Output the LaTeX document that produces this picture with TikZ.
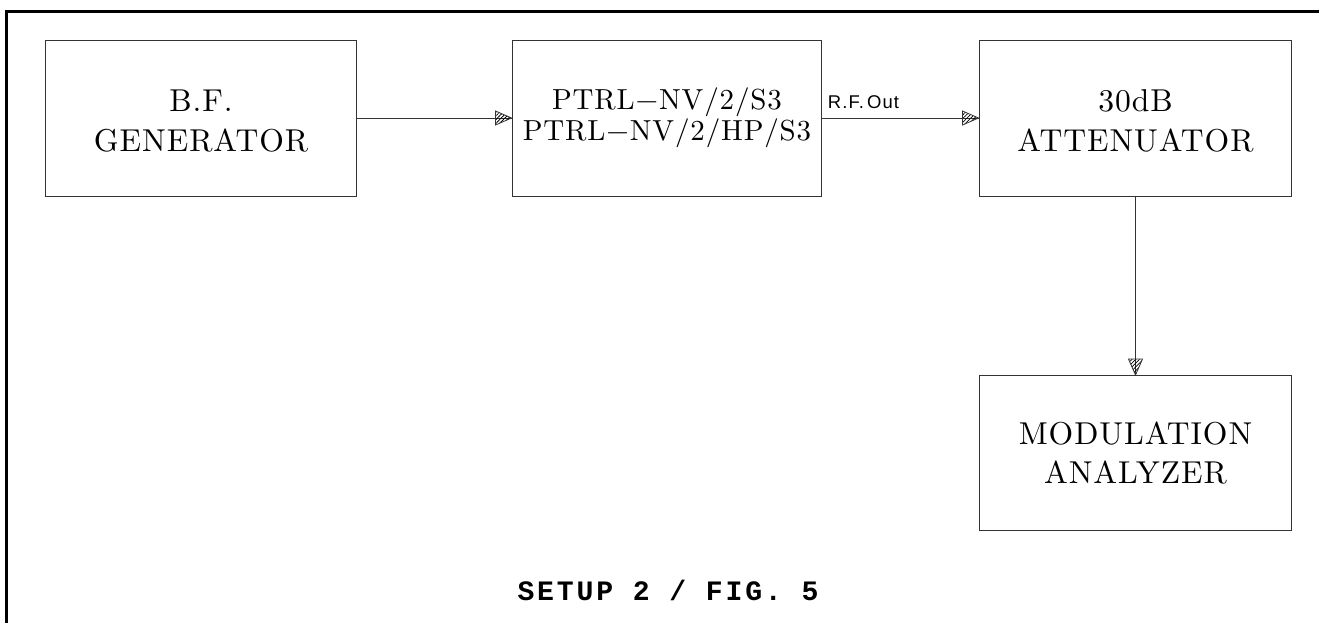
\documentclass[tikz,border=0pt]{standalone}
\usepackage{fontspec}
\newfontfamily\rffont[LetterSpace=6]{Liberation Sans}
\newfontfamily\capfont[LetterSpace=10]{Liberation Mono}
\newfontfamily\boxfont[Extension=.otf, LetterSpace=3]{lmroman10-regular}
\usetikzlibrary{decorations.markings,patterns.meta}
\tikzset{
  blockbox/.style={draw=black!80, line width=0.55pt, minimum width=#1, minimum height=3.12cm,
    inner sep=0pt, align=center, font=\boxfont\fontsize{18}{22.7}\selectfont},
  boxtext/.style={font=\boxfont\fontsize{18}{22.7}\selectfont, align=center, inner sep=0pt, yshift=-0.06cm},
  hatcharrow/.style={draw=black!80, line width=0.55pt, postaction={decorate},
    decoration={markings, mark=at position 1 with {
      \draw[line width=0.45pt, pattern={Lines[angle=45,distance=1.5pt,line width=0.45pt]}]
        (0,0) -- (-0.32cm,0.14cm) -- (-0.32cm,-0.14cm) -- cycle;}}},
  framestroke/.style={line width=1.8pt, black}
}
\begin{document}
\begin{tikzpicture}[x=0.02cm,y=-0.02cm]
\useasboundingbox (0,0) rectangle (1319,623);
% outer frame (top and left only)
\coordinate (ftr) at (1319,11.5);
\coordinate (ftl) at (6.5,11.5);
\coordinate (fbl) at (6.5,623);
\draw[framestroke] (ftr) -- (ftl) -- (fbl);

\node[blockbox=6.24cm, label={[boxtext]center:B.F.\\GENERATOR}] (gen) at (201,118) {};
\node[blockbox=6.20cm, font=\boxfont\fontsize{16.5}{17.6}\selectfont] (ptrl) at (667,118) {PTRL−NV/2/S3\\PTRL−NV/2/HP/S3};
\node[blockbox=6.26cm, label={[boxtext]center:30dB\\ATTENUATOR}] (att) at (1135.5,118) {};
\node[blockbox=6.26cm, minimum height=3.10cm] (mod) at (1135.5,453) {MODULATION\\ANALYZER};

\draw[hatcharrow] (gen.east) -- (ptrl.west);
\draw[hatcharrow] (ptrl.east) -- node[pos=0, anchor=base west, xshift=0.1cm, yshift=0.2cm, inner sep=0pt, font=\rffont\fontsize{10.5}{12}\selectfont] (rf) {R.F.\,Out} (att.west);
\draw[hatcharrow] (att.south) -- (mod.north);

\node[font=\capfont\bfseries\fontsize{16}{18}\selectfont, inner sep=0pt] (cap) at (668,590) {SETUP 2 / FIG. 5};
\end{tikzpicture}
\end{document}
